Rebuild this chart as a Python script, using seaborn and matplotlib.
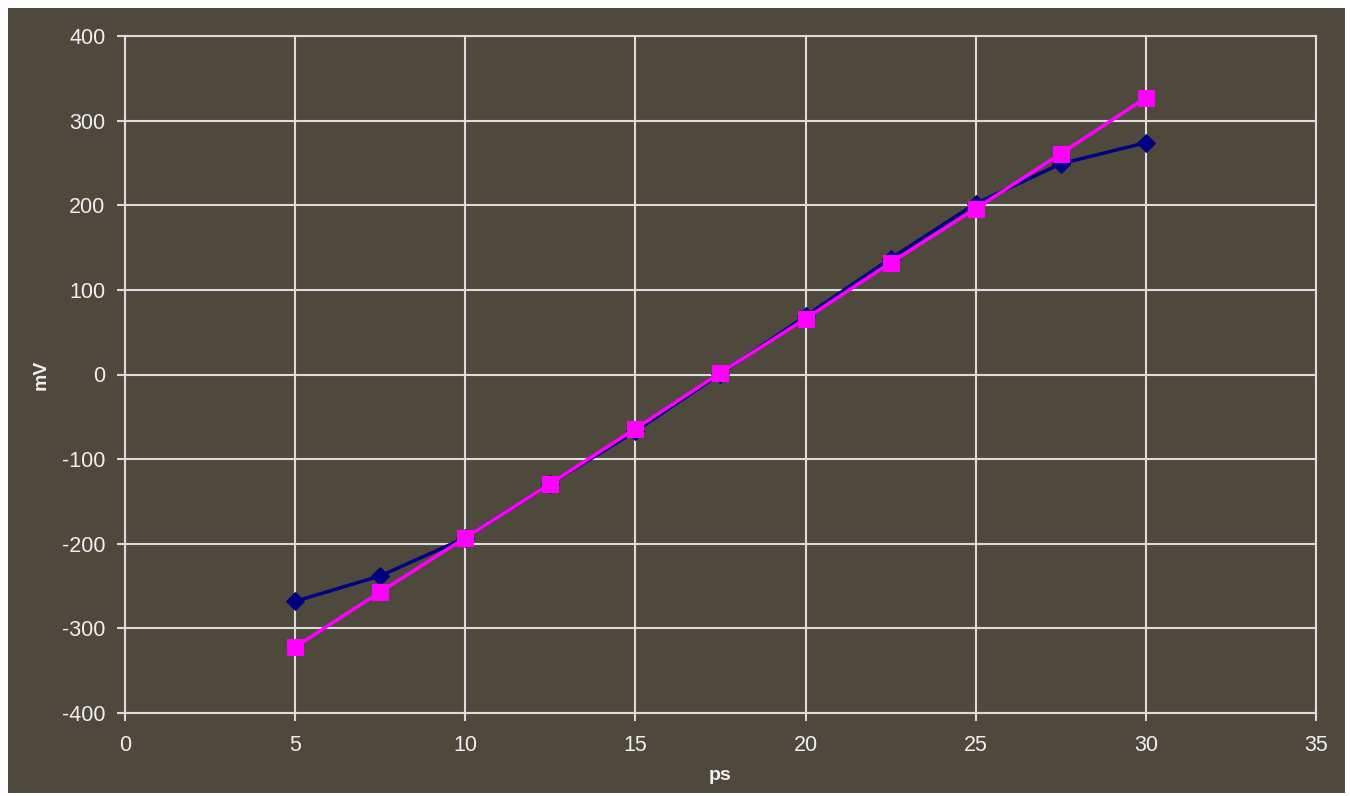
import pandas as pd
import matplotlib.pyplot as plt
import seaborn as sns
from matplotlib.patches import Rectangle

# data
ps = [5, 7.5, 10, 12.5, 15, 17.5, 20, 22.5, 25, 27.5, 30]
mv_blue = [-268, -238, -193, -129, -67, 1, 69, 137, 202, 249, 274]
mv_pink = [-322, -257, -193, -129, -64, 2, 66, 132, 196, 261, 327]

bg = "#4F483D"
grid = "#DCDCDC"

sns.set_theme(style="white")
plt.rcParams["font.family"] = ["Liberation Sans", "DejaVu Sans"]
plt.rcParams["axes.unicode_minus"] = False

fig = plt.figure(figsize=(13.5, 7.96), dpi=100)
fig.patch.set_facecolor("white")
# dark chart area inside a thin white border
fig.add_artist(Rectangle((8 / 1350, 0.004), (1345 - 8) / 1350, 1 - 8 / 796 - 0.004,
                         transform=fig.transFigure, facecolor=bg, edgecolor="none", zorder=0))

ax = fig.add_axes([125 / 1350, 1 - 713 / 796, (1316 - 125) / 1350, (713 - 36) / 796])
ax.set_facecolor(bg)

df = pd.DataFrame({"ps": ps, "blue": mv_blue, "pink": mv_pink})
sns.lineplot(data=df, x="ps", y="blue", ax=ax, color="#000080", marker="D",
             markersize=9, linewidth=2.5, markeredgecolor="#000080")
sns.lineplot(data=df, x="ps", y="pink", ax=ax, color="#FF00FF", marker="s",
             markersize=11, linewidth=2.5, markeredgecolor="#FF00FF")

ax.set_xlim(0, 35)
ax.set_ylim(-400, 400)
ax.set_xticks(range(0, 36, 5))
ax.set_yticks(range(-400, 401, 100))
ax.grid(True, color=grid, linewidth=1.5)
ax.set_axisbelow(True)
for s in ax.spines.values():
    s.set_color(grid)
    s.set_linewidth(1.5)
ax.tick_params(axis="both", colors=grid, labelcolor="#F0F0F0", labelsize=15.5,
               direction="out", length=6, width=1.5, bottom=True, left=True)
ax.tick_params(axis="x", pad=10)
ax.tick_params(axis="y", pad=8)

ax.set_xlabel("ps", fontsize=14, fontweight="bold", color="#F0F0F0", labelpad=8)
ax.set_ylabel("mV", fontsize=14, fontweight="bold", color="#F0F0F0")
ax.yaxis.set_label_coords(-(125 - 50) / (1316 - 125), 0.5)

fig.savefig("out.png", dpi=100, facecolor=fig.get_facecolor())
